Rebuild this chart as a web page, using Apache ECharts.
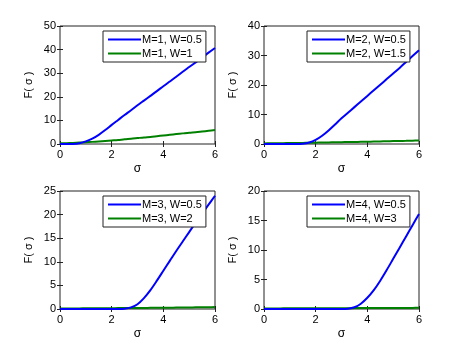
<!DOCTYPE html>
<html>
<head>
<meta charset="utf-8">
<script src="https://cdn.jsdelivr.net/npm/echarts@6/dist/echarts.min.js"></script>
<style>
  html, body { margin: 0; padding: 0; background: #fff; }
  #chart { width: 463px; height: 348px; }
</style>
</head>
<body>
<div id="chart"></div>
<script>
// sigma grid shared by every curve
const sigma = [0, 0.25, 0.5, 0.75, 1, 1.25, 1.5, 1.75, 2, 2.25, 2.5, 2.75, 3, 3.25, 3.5, 3.75, 4, 4.25, 4.5, 4.75, 5, 5.25, 5.5, 5.75, 6]

const blue1 = [0, 0, 0.05, 0.35, 1.1, 2.3, 3.9, 5.9, 8.1, 10.2, 12.3, 14.3, 16.4, 18.4, 20.4, 22.4, 24.5, 26.5, 28.5, 30.6, 32.6, 34.6, 36.6, 38.7, 40.7]
const green1 = [0.3, 0.35, 0.45, 0.6, 0.75, 0.9, 1.1, 1.3, 1.5, 1.7, 2.0, 2.2, 2.5, 2.8, 3.0, 3.3, 3.6, 3.9, 4.2, 4.5, 4.8, 5.0, 5.3, 5.6, 5.9]
const blue2 = [0, 0, 0, 0, 0, 0, 0.1, 0.5, 1.4, 2.8, 4.6, 6.6, 8.7, 10.6, 12.5, 14.4, 16.3, 18.2, 20.1, 22.0, 23.9, 25.8, 27.8, 29.8, 31.8]
const green2 = [0.2, 0.23, 0.26, 0.29, 0.32, 0.35, 0.38, 0.42, 0.46, 0.5, 0.54, 0.58, 0.62, 0.66, 0.7, 0.74, 0.78, 0.83, 0.88, 0.93, 0.98, 1.03, 1.08, 1.14, 1.2]
const blue3 = [0, 0, 0, 0, 0, 0, 0, 0, 0, 0, 0.05, 0.35, 1.0, 2.3, 4.0, 6.0, 8.1, 10.2, 12.3, 14.3, 16.3, 18.3, 20.2, 22.1, 24.0]
const green3 = [0.1, 0.11, 0.12, 0.13, 0.14, 0.15, 0.16, 0.17, 0.18, 0.19, 0.2, 0.21, 0.22, 0.23, 0.24, 0.25, 0.26, 0.28, 0.3, 0.31, 0.33, 0.35, 0.36, 0.38, 0.4]
const blue4 = [0, 0, 0, 0, 0, 0, 0, 0, 0, 0, 0, 0, 0, 0.05, 0.3, 0.9, 1.9, 3.2, 4.8, 6.6, 8.5, 10.4, 12.3, 14.2, 16.1]
const green4 = [0.1, 0.1, 0.1, 0.11, 0.11, 0.11, 0.12, 0.12, 0.12, 0.13, 0.13, 0.13, 0.14, 0.14, 0.15, 0.15, 0.16, 0.16, 0.17, 0.17, 0.18, 0.18, 0.19, 0.19, 0.2]

const blueNames = ['M=1, W=0.5', 'M=2, W=0.5', 'M=3, W=0.5', 'M=4, W=0.5']
const greenNames = ['M=1, W=1', 'M=2, W=1.5', 'M=3, W=2', 'M=4, W=3']
const blues = [blue1, blue2, blue3, blue4]
const greens = [green1, green2, green3, green4]
const yMax = [50, 40, 25, 20]
const yStep = [10, 10, 5, 5]

const boxes = [
  { left: 60, top: 26 },
  { left: 264, top: 26 },
  { left: 60, top: 191 },
  { left: 264, top: 191 }
]
const W = 155
const H = 118
const font = 'Liberation Sans, Arial, sans-serif'
const axisColor = '#222'

function pairs(ys) {
  return sigma.map((x, i) => [x, ys[i]])
}

const grid = []
const xAxis = []
const yAxis = []
const series = []
const legend = []

boxes.forEach((b, i) => {
  grid.push({
    left: b.left, top: b.top, width: W, height: H,
    show: true, borderColor: axisColor, borderWidth: 1, backgroundColor: '#fff'
  })
  // bottom axis with labels
  xAxis.push({
    gridIndex: i, type: 'value', min: 0, max: 6, interval: 2,
    name: 'σ', nameLocation: 'middle', nameGap: 19,
    nameTextStyle: { color: '#000', fontSize: 12, fontFamily: font },
    axisLine: { show: false },
    axisTick: { inside: true, length: 3, lineStyle: { color: axisColor } },
    axisLabel: { color: '#000', fontSize: 11, fontFamily: font, margin: 5 },
    splitLine: { show: false }
  })
  // top axis: ticks only
  xAxis.push({
    gridIndex: i, type: 'value', min: 0, max: 6, interval: 2, position: 'top',
    axisLine: { show: false },
    axisTick: { inside: true, length: 3, lineStyle: { color: axisColor } },
    axisLabel: { show: false },
    splitLine: { show: false }
  })
  yAxis.push({
    gridIndex: i, type: 'value', min: 0, max: yMax[i], interval: yStep[i],
    name: 'F( σ )', nameLocation: 'middle', nameGap: 26,
    nameTextStyle: { color: '#000', fontSize: 11, fontFamily: font },
    axisLine: { show: false },
    axisTick: { inside: true, length: 3, lineStyle: { color: axisColor } },
    axisLabel: { color: '#000', fontSize: 11, fontFamily: font, margin: 4 },
    splitLine: { show: false }
  })
  yAxis.push({
    gridIndex: i, type: 'value', min: 0, max: yMax[i], interval: yStep[i], position: 'right',
    axisLine: { show: false },
    axisTick: { inside: true, length: 3, lineStyle: { color: axisColor } },
    axisLabel: { show: false },
    splitLine: { show: false }
  })
  series.push({
    name: blueNames[i], type: 'line', xAxisIndex: i * 2, yAxisIndex: i * 2,
    data: pairs(blues[i]), showSymbol: false, smooth: 0.3,
    lineStyle: { color: '#0000ff', width: 2 }, itemStyle: { color: '#0000ff' }, z: 3
  })
  series.push({
    name: greenNames[i], type: 'line', xAxisIndex: i * 2, yAxisIndex: i * 2,
    data: pairs(greens[i]), showSymbol: false, smooth: 0.3,
    lineStyle: { color: '#008000', width: 2 }, itemStyle: { color: '#008000' }, z: 2
  })
  legend.push({
    data: [blueNames[i], greenNames[i]],
    orient: 'vertical',
    left: b.left + 43, top: b.top + 5,
    width: 109,
    padding: [3, 4, 3, 5],
    itemGap: 3,
    itemWidth: 33, itemHeight: 2,
    icon: 'rect',
    backgroundColor: '#fff',
    borderColor: axisColor, borderWidth: 1,
    borderRadius: 0,
    selectedMode: false,
    textStyle: { color: '#000', fontSize: 11, fontFamily: font, padding: [0, 0, 0, -4] }
  })
})

const chart = echarts.init(document.getElementById('chart'))
chart.setOption({
  animation: false,
  backgroundColor: '#fff',
  grid, xAxis, yAxis, series, legend
})
</script>
</body>
</html>
